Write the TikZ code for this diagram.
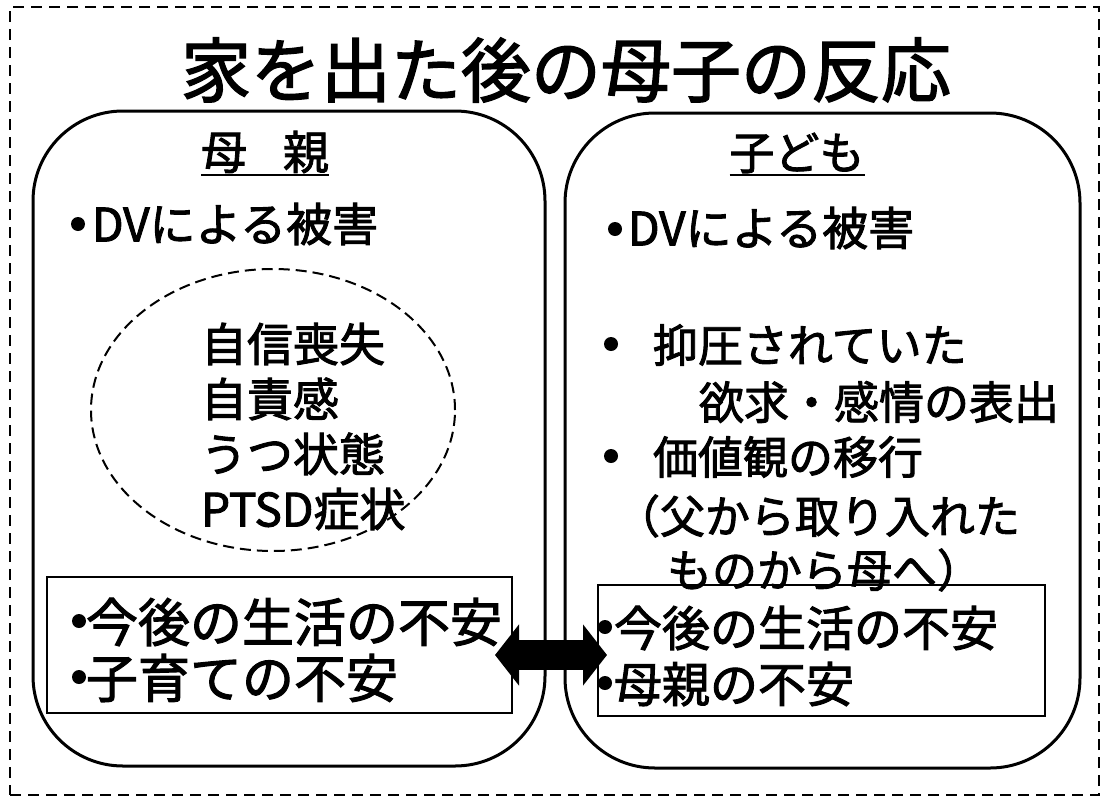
\documentclass[tikz,border=0pt]{standalone}
\usepackage{fontspec}
\setmainfont{Noto Sans CJK JP}[FakeBold=2]
\usetikzlibrary{arrows.meta,shapes.geometric}
\begin{document}
\begin{tikzpicture}[x=1pt,y=-1pt,
  every node/.style={inner sep=0pt, outer sep=0pt},
  frame/.style={draw, line width=1.8pt, dash pattern=on 11pt off 7pt},
  panel/.style={draw, line width=3pt, rounded corners=90pt},
  listbox/.style={draw, line width=2pt},
  symellipse/.style={draw, ellipse, line width=2pt, dash pattern=on 11pt off 6pt},
  dot/.style={circle, fill, minimum size=14pt},
  headtxt/.style={font=\fontsize{46}{50}\selectfont},
  uline/.style={line width=2pt},
  ltxt/.style={anchor=west, font=\fontsize{46}{50}\selectfont},
  rtxt/.style={anchor=west, font=\fontsize{45}{50}\selectfont},
  boxtxt/.style={anchor=west, font=\fontsize{52}{56}\selectfont},
  bigarrow/.style={line width=30pt,
    {Triangle[length=24pt,width=60pt]}-{Triangle[length=24pt,width=60pt]},
    shorten <=-17pt, shorten >=-9pt}]
\useasboundingbox (0,0) rectangle (1102,798);
\node[frame, minimum width=1089pt, minimum height=788pt] (outer) at (554.5,401) {};
\node[font=\fontsize{70}{76}\selectfont] (title) at (566,70) {家を出た後の母子の反応};

% panels
\node[panel, minimum width=512pt, minimum height=655pt] (mpanel) at (289,438.5) {};
\node[panel, minimum width=515pt, minimum height=655pt] (cpanel) at (822.5,440.5) {};

% headers
\node[headtxt] (mhead) at (265,152) {母\hspace{36pt}親};
\draw[uline] ([yshift=-2pt]mhead.south west) -- ([yshift=-2pt]mhead.south east);
\node[headtxt, font=\fontsize{45}{50}\selectfont] (chead) at (797,153) {子ども};
\draw[uline] ([yshift=-2pt]chead.south west) -- ([yshift=-2pt]chead.south east);

% left panel
\node[dot] (mdvb) at (78,224) {};
\node[ltxt] (mdv) at (92,224) {DVによる被害};
\node[symellipse, minimum width=364pt, minimum height=282pt] (sym) at (273,410) {};
\node[anchor=west, align=left, font=\fontsize{46}{55}\selectfont] (symtxt) at (201,426.5)
  {自信喪失\\自責感\\うつ状態\\PTSD症状};
\node[listbox, minimum width=465pt, minimum height=136pt] (lrect) at (279.5,645) {};
\node[dot] (l1b) at (79,621) {};
\node[boxtxt] (l1) at (86,622) {今後の生活の不安};
\node[dot] (l2b) at (79,677) {};
\node[boxtxt] (l2) at (86,678) {子育ての不安};

% right panel
\node[dot] (cdvb) at (615,229) {};
\node[ltxt] (cdv) at (628,228) {DVによる被害};
\node[dot] (c1b) at (611,344) {};
\node[rtxt] (c1) at (653,345) {抑圧されていた};
\node[rtxt] (c2) at (699,402) {欲求・感情の表出};
\node[dot] (c3b) at (611,456) {};
\node[rtxt] (c3) at (653,457) {価値観の移行};
\node[rtxt] (c4) at (615,516) {（父から取り入れた};
\node[rtxt] (c5) at (667,570) {ものから母へ）};
\node[listbox, minimum width=447pt, minimum height=131pt] (rrect) at (821.5,650.5) {};
\node[dot] (r1b) at (605,627) {};
\node[anchor=west, font=\fontsize{48}{52}\selectfont] (r1) at (614,628) {今後の生活の不安};
\node[dot] (r2b) at (605,683) {};
\node[anchor=west, font=\fontsize{48}{52}\selectfont] (r2) at (614,684) {母親の不安};

% double arrow
\coordinate (ay) at (0,655);
\draw[bigarrow] (lrect.east |- ay) -- (rrect.west |- ay);
\end{tikzpicture}
\end{document}
